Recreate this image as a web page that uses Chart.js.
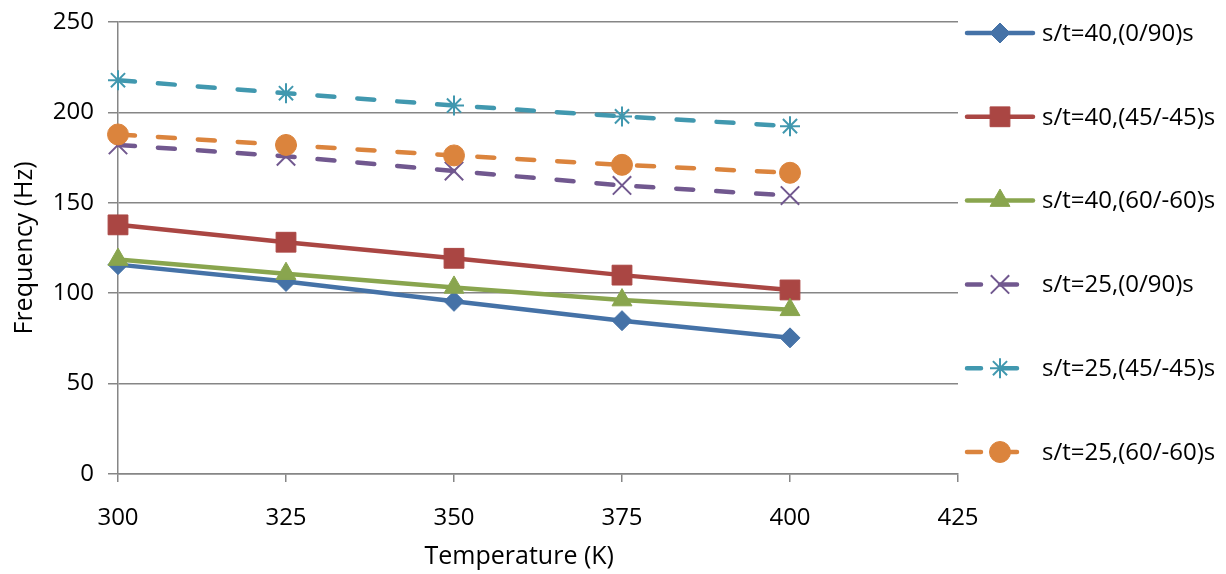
<!DOCTYPE html>
<html>
<head>
<meta charset="utf-8">
<script src="https://cdn.jsdelivr.net/npm/chart.js@4/dist/chart.umd.min.js"></script>
<style>
  html, body { margin: 0; padding: 0; background: #fff; }
  #wrap { width: 1226px; height: 574px; position: relative; }
</style>
</head>
<body>
<div id="wrap"><canvas id="c" width="1226" height="574"></canvas></div>
<script>
// ---- data ----
const temperatures = [300, 325, 350, 375, 400];
const seriesNames = [
  's/t=40,(0/90)s',
  's/t=40,(45/-45)s',
  's/t=40,(60/-60)s',
  's/t=25,(0/90)s',
  's/t=25,(45/-45)s',
  's/t=25,(60/-60)s'
];
const st40_0_90   = [115.8, 106.5, 95.5, 84.8, 75.3];
const st40_45_45  = [137.8, 128.2, 119.3, 110.0, 101.8];
const st40_60_60  = [118.6, 110.8, 103.2, 96.2, 90.8];
const st25_0_90   = [182.0, 175.7, 167.6, 159.6, 154.0];
const st25_45_45  = [217.8, 210.6, 203.8, 197.8, 192.4];
const st25_60_60  = [187.8, 182.0, 176.2, 171.0, 166.6];
const xTicks = [300, 325, 350, 375, 400, 425];
const yTicks = [0, 50, 100, 150, 200, 250];

// ---- styles ----
const FONT = '"Open Sans", "DejaVu Sans", sans-serif';
const styles = [
  {color: '#4572A7', point: 'rectRot',  radius: 10, dash: [],       bw: 1},
  {color: '#AA4643', point: 'rect',     radius: 14, dash: [],       bw: 1},
  {color: '#89A54E', point: 'triangle', radius: 11.5, dash: [],     bw: 1},
  {color: '#71588F', point: 'crossRot', radius: 13, dash: [17, 23], bw: 2},
  {color: '#4198AF', point: 'star',     radius: 10, dash: [17, 23], bw: 2},
  {color: '#DB843D', point: 'circle',   radius: 10.5, dash: [17, 23], bw: 1}
];
const values = [st40_0_90, st40_45_45, st40_60_60, st25_0_90, st25_45_45, st25_60_60];

const datasets = values.map((v, i) => ({
  label: seriesNames[i],
  data: v.map((y, k) => ({x: temperatures[k], y: y})),
  borderColor: styles[i].color,
  backgroundColor: styles[i].color,
  borderWidth: 4.5,
  borderDash: styles[i].dash,
  borderCapStyle: 'round',
  borderJoinStyle: 'round',
  pointStyle: styles[i].point,
  pointRadius: styles[i].radius,
  pointHoverRadius: styles[i].radius,
  pointBorderWidth: styles[i].bw,
  pointBorderColor: styles[i].color,
  pointBackgroundColor: styles[i].color,
  tension: 0,
  clip: false,
  order: values.length - i
}));

// custom side legend: line + marker sample, then label, using the datasets' styles
const legendPlugin = {
  id: 'sideLegend',
  afterDraw(chart) {
    const ctx = chart.ctx;
    const area = chart.chartArea;
    const top = area.top + 11;
    const step = (area.bottom - 22 - top) / (seriesNames.length - 1);
    const x0 = area.right + 7;
    const x1 = x0 + 70;
    const xm = x0 + 35;
    seriesNames.forEach((name, i) => {
      const st = styles[i];
      const y = top + i * step;
      ctx.save();
      ctx.strokeStyle = st.color;
      ctx.lineWidth = 4.5;
      ctx.lineCap = 'round';
      ctx.beginPath();
      if (st.dash.length) {
        ctx.moveTo(x0 + 2, y); ctx.lineTo(x0 + 16, y);
        ctx.moveTo(xm, y); ctx.lineTo(x0 + 52, y);
      } else {
        ctx.moveTo(x0 + 2, y); ctx.lineTo(x1 - 2, y);
      }
      ctx.stroke();
      ctx.restore();
      ctx.save();
      ctx.fillStyle = st.color;
      ctx.strokeStyle = st.color;
      ctx.lineWidth = st.bw;
      Chart.helpers.drawPoint(ctx, {
        pointStyle: st.point,
        radius: st.radius,
        rotation: 0,
        borderWidth: st.bw
      }, xm, y);
      ctx.restore();
      ctx.save();
      ctx.fillStyle = '#000';
      ctx.font = '24px ' + FONT;
      ctx.textBaseline = 'middle';
      ctx.textAlign = 'left';
      ctx.fillText(name, x1 + 7, y + 1);
      ctx.restore();
    });
  }
};

new Chart(document.getElementById('c'), {
  type: 'line',
  data: { datasets },
  plugins: [legendPlugin],
  options: {
    responsive: false,
    animation: false,
    events: [],
    layout: { padding: { left: 0, right: 268, top: 22, bottom: 0 } },
    plugins: { legend: { display: false }, tooltip: { enabled: false } },
    scales: {
      x: {
        type: 'linear',
        min: xTicks[0], max: xTicks[xTicks.length - 1],
        afterBuildTicks: (s) => { s.ticks = xTicks.map(v => ({value: v})); },
        afterFit: (s) => { s.height = 100; s.paddingLeft = 0; s.paddingRight = 0; },
        ticks: { color: '#000', font: { family: FONT, size: 24 }, padding: 22, maxRotation: 0 },
        grid: { drawOnChartArea: false, drawTicks: true, tickLength: 8, color: '#868686', lineWidth: 1.5 },
        border: { display: true, color: '#868686', width: 1.5 },
        title: { display: true, text: 'Temperature (K)\u2002\u2002\u2002', color: '#000', font: { family: FONT, size: 25 }, padding: { top: 0, bottom: 2 } }
      },
      y: {
        type: 'linear',
        min: yTicks[0], max: yTicks[yTicks.length - 1],
        afterBuildTicks: (s) => { s.ticks = yTicks.map(v => ({value: v})); },
        afterFit: (s) => { s.width = 118; s.paddingTop = 0; s.paddingBottom = 0; },
        ticks: { color: '#000', font: { family: FONT, size: 24 }, padding: 14 },
        grid: { drawOnChartArea: true, drawTicks: true, tickLength: 10, color: '#868686', lineWidth: 1.5 },
        border: { display: true, color: '#868686', width: 1.5 },
        title: { display: true, text: 'Frequency (Hz)', color: '#000', font: { family: FONT, size: 25 }, padding: { top: 10, bottom: 0 } }
      }
    }
  }
});
</script>
</body>
</html>
